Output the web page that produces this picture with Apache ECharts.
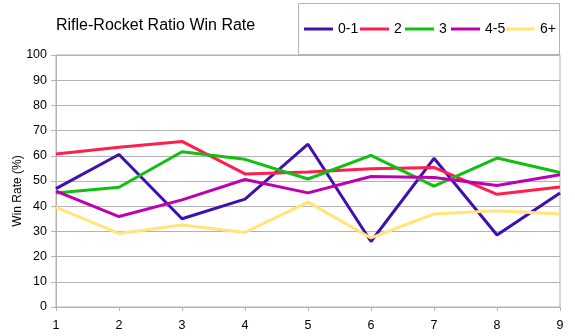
<!DOCTYPE html>
<html><head><meta charset="utf-8">
<script src="https://cdn.jsdelivr.net/npm/echarts@6/dist/echarts.min.js"></script>
<style>html,body{margin:0;padding:0;background:#fff}#c{width:575px;height:336px}</style>
</head><body><div id="c"></div>
<script>
const categories = ['1','2','3','4','5','6','7','8','9'];
const s01 = [47, 60.5, 35, 42.8, 64.6, 26, 59, 28.6, 45.2];
const s2 = [60.7, 63.4, 65.7, 52.8, 53.6, 54.9, 55.4, 44.7, 47.6];
const s3 = [45.2, 47.5, 61.6, 58.6, 50.8, 60.2, 48, 59.1, 53.4];
const s45 = [46, 35.9, 42.5, 50.6, 45.3, 51.8, 51.4, 48.2, 52.5];
const s6p = [39.5, 29.2, 32.5, 29.6, 41.6, 27.4, 36.9, 38.2, 36.9];
const seriesNames = ['0-1','2','3','4-5','6+'];
const colors = ['#3f10b0','#ff1e4e','#10c010','#bf00b0','#ffe57a'];
const yTicks = {min:0, max:100, interval:10};
const legendLefts = [304, 360, 405, 451, 506];
const font = 'Liberation Sans, Arial, sans-serif';
const chart = echarts.init(document.getElementById('c'));
const data = [s01, s2, s3, s45, s6p];
chart.setOption({
  animation:false,
  textStyle:{fontFamily:font},
  title:{text:'Rifle-Rocket Ratio Win Rate', left:51, top:13,
    textStyle:{fontSize:16, fontWeight:'normal', color:'#000', fontFamily:font}},
  graphic:[{type:'rect', shape:{x:298.5,y:3.5,width:261,height:51},
    style:{fill:'#fff', stroke:'#b3b3b3', lineWidth:1}, z:0}],
  legend: seriesNames.map((n,i)=>({left:legendLefts[i], top:22, itemWidth:29, itemHeight:3,
    icon:'rect', padding:0,
    textStyle:{fontSize:14, color:'#000', fontFamily:font},
    data:[n], z:10})),
  grid:{left:56, right:15, top:55, bottom:29, show:true, borderColor:'#b3b3b3', borderWidth:1,
    containLabel:false, outerBoundsMode:'none'},
  xAxis:{type:'category', data:categories, boundaryGap:false,
    axisLine:{lineStyle:{color:'#b3b3b3'}},
    axisTick:{show:true, length:4, lineStyle:{color:'#b3b3b3'}},
    axisLabel:{fontSize:12.5, color:'#000', margin:12, fontFamily:font},
    splitLine:{show:false}},
  yAxis:{type:'value', min:yTicks.min, max:yTicks.max, interval:yTicks.interval,
    name:'Win Rate (%)', nameLocation:'middle', nameGap:32, nameRotate:90, nameMoveOverlap:false,
    nameTextStyle:{fontSize:12, color:'#000', fontFamily:font, padding:[0,20,0,0]},
    axisLine:{show:true, lineStyle:{color:'#b3b3b3'}},
    axisTick:{show:true, length:5, lineStyle:{color:'#b3b3b3'}},
    axisLabel:{fontSize:12.5, color:'#000', margin:9, fontFamily:font},
    splitLine:{lineStyle:{color:'#b3b3b3'}}},
  series: data.map((d,i)=>({name:seriesNames[i], type:'line', data:d, showSymbol:false,
    symbol:'none', color:colors[i], lineStyle:{width:3, color:colors[i]}, z:2}))
});
</script></body></html>
